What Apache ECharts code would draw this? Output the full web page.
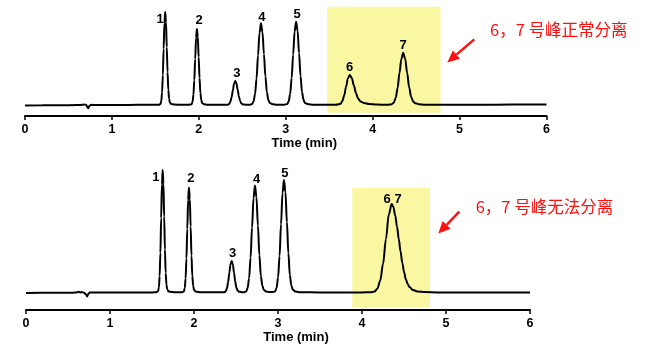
<!DOCTYPE html>
<html>
<head>
<meta charset="utf-8">
<script src="https://cdn.jsdelivr.net/npm/echarts@6/dist/echarts.min.js"></script>
<style>
html,body{margin:0;padding:0;background:#fff;}
#chart{width:648px;height:345px;}
</style>
</head>
<body>
<div id="chart"></div>
<script>
// ---- data (time in min, signal in arbitrary units) ----
const topTrace = [
[0,-0.5],[0.2,-0.3],[0.4,-0.2],[0.6,-0.1],[0.66,0.2],[0.69,0.6],[0.705,0],[0.72,-2.5],[0.728,-3.2],[0.74,-1],[0.76,0.2],[0.8,0],[1.0,0.1],[1.2,0.1],[1.4,0.3],[1.5,0.2],[1.54,0.3],
[1.559,1],[1.568,4],[1.577,12.6],[1.586,30],[1.595,56],[1.604,82],[1.613,93],[1.622,83],[1.631,58],[1.640,33],[1.649,15],[1.658,6],[1.667,2.5],[1.683,1],[1.72,0.4],[1.8,0.2],[1.88,0.2],
[1.918,0.8],[1.928,3.4],[1.938,10.3],[1.948,24.7],[1.958,46],[1.968,67],[1.978,76],[1.988,68],[1.998,48],[2.008,27],[2.018,12],[2.028,5],[2.038,2],[2.06,0.8],[2.1,0.3],[2.2,0.2],[2.3,0.2],
[2.335,0.3],[2.349,1],[2.363,3.2],[2.377,7.8],[2.391,14.6],[2.405,21.2],[2.419,24],[2.433,21.5],[2.447,15.3],[2.461,8.6],[2.475,4],[2.489,1.6],[2.51,0.6],[2.55,0.2],[2.59,0.2],
[2.613,0.9],[2.63,3.6],[2.647,11],[2.664,26.5],[2.681,49.6],[2.698,72],[2.715,81.7],[2.732,73],[2.749,51],[2.766,28.5],[2.783,12.5],[2.8,5],[2.817,2],[2.85,0.8],[2.9,0.3],[2.98,0.3],
[3.017,0.9],[3.034,3.7],[3.051,11.2],[3.068,27],[3.085,50.5],[3.102,73.5],[3.119,83.3],[3.136,74.5],[3.153,52],[3.17,29],[3.187,13],[3.204,5.2],[3.221,2],[3.26,0.8],[3.32,0.3],[3.45,0.2],[3.58,0.2],
[3.631,1.3],[3.652,4],[3.673,9.7],[3.694,18.2],[3.715,26.5],[3.736,30],[3.76,27],[3.784,19.5],[3.808,12],[3.832,6.5],[3.86,3.5],[3.9,2],[3.96,1],[4.05,0.4],[4.15,0.3],
[4.2,0.4],[4.22,0.8],[4.243,2.3],[4.265,7],[4.287,17],[4.308,31.7],[4.33,46],[4.351,52.3],[4.374,46.3],[4.397,32],[4.42,17.5],[4.443,8],[4.466,3.5],[4.49,1.8],[4.53,0.8],[4.6,0.3],[4.8,0.2],[5.2,0.3],[5.6,0.4],[6,0.5]
];
const bottomTrace = [
[0,-0.3],[0.3,-0.2],[0.55,-0.2],[0.6,0.2],[0.625,0.8],[0.645,0.2],[0.66,0.5],[0.69,-0.2],[0.715,-2],[0.728,-3.8],[0.74,-1.5],[0.76,0],[0.8,0.2],[1.0,0],[1.2,0.1],[1.4,0.2],[1.5,0.2],[1.55,0.3],
[1.573,1.3],[1.582,5.4],[1.591,16.6],[1.6,39.9],[1.609,74.5],[1.618,108],[1.627,122.7],[1.636,109],[1.645,76],[1.654,43],[1.663,19.5],[1.672,8],[1.681,3.2],[1.697,1.2],[1.74,0.5],[1.8,0.3],[1.86,0.3],
[1.88,1.2],[1.89,4.6],[1.9,14.2],[1.91,34.1],[1.92,63.7],[1.93,92.6],[1.94,105],[1.95,93.5],[1.96,66],[1.97,37],[1.98,16.5],[1.99,6.8],[2.0,2.7],[2.02,1],[2.08,0.4],[2.2,0.3],[2.32,0.3],
[2.364,0.4],[2.378,1.4],[2.392,4.3],[2.406,10.3],[2.42,19.2],[2.434,28],[2.448,31.7],[2.462,28.3],[2.476,20],[2.49,11.3],[2.504,5],[2.518,2],[2.54,0.8],[2.58,0.3],[2.6,0.4],
[2.621,1.2],[2.6385,4.7],[2.656,14.4],[2.6735,34.8],[2.691,65],[2.7085,94.4],[2.726,107],[2.7435,95.5],[2.761,67],[2.7785,37.5],[2.796,16.5],[2.8135,6.8],[2.831,2.7],[2.86,1],[2.9,0.5],[2.94,0.6],
[2.966,1.2],[2.9835,4.9],[3.001,15.2],[3.0185,36.6],[3.036,68.4],[3.0535,99.4],[3.071,112.7],[3.0885,100.5],[3.106,70.5],[3.1235,39.5],[3.141,17.5],[3.1585,7.2],[3.176,2.8],[3.21,1],[3.27,0.4],[3.5,0.2],[3.8,0.2],[4.0,0.2],[4.1,0.4],
[4.149,1],[4.183,3.9],[4.217,12],[4.251,28.8],[4.285,53.7],[4.319,78],[4.353,88.5],[4.374,85.5],[4.3955,77],[4.417,66],[4.438,53.5],[4.459,41],[4.4805,29.5],[4.502,20],[4.523,13],[4.544,8.5],[4.5655,5.5],[4.608,2.5],[4.66,1.2],[4.75,0.5],[4.9,0.2],[5.3,0],[5.7,0],[6,0]
];
const topPeakTimes = [1.613,1.978,2.419,2.715,3.119,3.736,4.351];
const topPeakHeights = [93,76,24,81.7,83.3,30,52.3];
const topPeakNames = ['1','2','3','4','5','6','7'];
const bottomPeakTimes = [1.627,1.94,2.448,2.726,3.071,4.353];
const bottomPeakHeights = [122.7,105,31.7,107,112.7,88.5];
const bottomPeakNames = ['1','2','3','4','5','6 7'];
const topHighlight = {t: [3.476, 4.781], s: [-7.7, 98.3]};
const bottomHighlight = {t: [3.885, 4.81], s: [-14.8, 104.8]};
const timeRange = [0, 6];
const xName = 'Time (min)';
const noteTop = '6，7 号峰正常分离';
const noteBottom = '6，7 号峰无法分离';

// ---- layout / style (not data) ----
const topLabelOffsets = [[-5,7.3],[2.3,-8.3],[1.7,-7.7],[1,-5.6],[1,-7.4],[0,-7.3],[0,-7.7]];
const bottomLabelOffsets = [[-6.7,7.7],[2,-9.4],[1,-7.7],[1.7,-5.7],[1,-6.7],[1,-4.5]];
const YELLOW = '#FAF7A2';
const RED = '#FF1010';
const SANS = 'Liberation Sans, Arial, sans-serif';

const chart = echarts.init(document.getElementById('chart'), null, {renderer:'canvas'});

function xAxisCfg(gridIndex, namePad){
  return {
    type:'value', gridIndex, min:timeRange[0], max:timeRange[1], interval:1,
    name:xName, nameLocation:'middle', nameGap:19,
    nameTextStyle:{color:'#000', fontWeight:'bold', fontSize:13, fontFamily:SANS, padding:[0,0,0,namePad]},
    axisLine:{show:true, onZero:false, lineStyle:{color:'#000', width:2}},
    axisTick:{show:true, length:4, lineStyle:{color:'#000', width:1.5}},
    axisLabel:{color:'#000', fontWeight:'bold', fontSize:12.5, fontFamily:SANS, margin:7},
    splitLine:{show:false}
  };
}
function yAxisCfg(gridIndex, min, max){
  return {type:'value', gridIndex, min, max, show:false, splitLine:{show:false}};
}
function labelSeries(idx, times, heights, names, offsets){
  return {
    type:'scatter', xAxisIndex:idx, yAxisIndex:idx, symbolSize:0, z:5, silent:true,
    itemStyle:{color:'#000', opacity:1},
    data: times.map((t,i)=>({value:[t, heights[i]], name:names[i],
      label:{show:true, position:'inside', offset:offsets[i], formatter:names[i],
        color:'#000', opacity:1, textBorderWidth:0, textBorderColor:'transparent',
        fontWeight:'bold', fontSize:13, fontFamily:SANS}}))
  };
}
function areaSeries(idx, hl){
  return {
    type:'line', xAxisIndex:idx, yAxisIndex:idx, data:[], z:1, silent:true,
    markArea:{silent:true, itemStyle:{color:YELLOW, opacity:1},
      data:[[{xAxis:hl.t[0], yAxis:hl.s[0]},{xAxis:hl.t[1], yAxis:hl.s[1]}]]}
  };
}
function traceSeries(idx, data){
  return {type:'line', xAxisIndex:idx, yAxisIndex:idx, data, showSymbol:false, symbol:'none',
    smooth:0.35, smoothMonotone:'x', z:3, silent:true,
    lineStyle:{color:'#000', width:2}};
}
function arrow(x1,y1,x2,y2){
  const a = Math.atan2(y2-y1, x2-x1), L = 12, W = 5.5;
  const bx = x2 - L*Math.cos(a), by = y2 - L*Math.sin(a);
  const px = -Math.sin(a)*W, py = Math.cos(a)*W;
  return [
    {type:'line', shape:{x1, y1, x2:bx, y2:by}, style:{stroke:RED, lineWidth:2.4}},
    {type:'polygon', shape:{points:[[x2,y2],[bx+px,by+py],[bx-px,by-py]]}, style:{fill:RED}}
  ];
}

chart.setOption({
  backgroundColor:'#fff',
  animation:false,
  grid:[
    {left:25, right:101.5, top:5, bottom:229},
    {left:26, right:118, top:165, bottom:35}
  ],
  xAxis:[xAxisCfg(0, 37), xAxisCfg(1, 36)],
  yAxis:[yAxisCfg(0, -11, 100), yAxisCfg(1, -17.4, 127.6)],
  series:[
    areaSeries(0, topHighlight),
    areaSeries(1, bottomHighlight),
    traceSeries(0, topTrace),
    traceSeries(1, bottomTrace),
    labelSeries(0, topPeakTimes, topPeakHeights, topPeakNames, topLabelOffsets),
    labelSeries(1, bottomPeakTimes, bottomPeakHeights, bottomPeakNames, bottomLabelOffsets)
  ],
  graphic:[
    {type:'text', style:{text:noteTop, x:490, y:29.3, fill:RED, verticalAlign:'middle', fontSize:16.5, fontFamily:'Noto Sans CJK SC'}},
    {type:'text', style:{text:noteBottom, x:475.7, y:206.7, fill:RED, verticalAlign:'middle', fontSize:16.5, fontFamily:'Noto Sans CJK SC'}},
    ...arrow(474.3, 39.3, 447.3, 62.5),
    ...arrow(459.3, 211.7, 438.3, 233.5)
  ]
});
</script>
</body>
</html>
